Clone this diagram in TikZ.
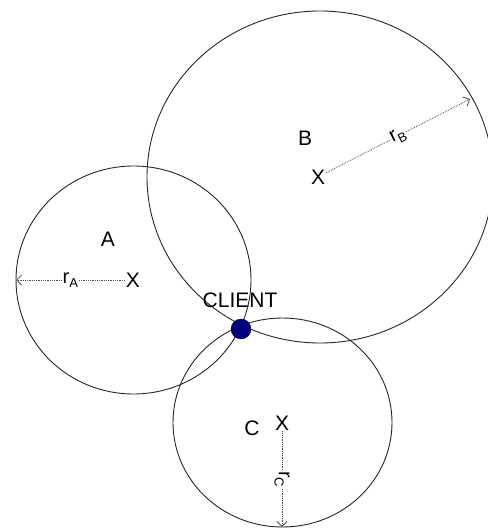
\documentclass[tikz,border=0pt]{standalone}
\usepackage{fontspec}
\setmainfont{Liberation Sans}
\usetikzlibrary{arrows.meta}

\definecolor{azulcliente}{RGB}{0,0,128}
\newcommand{\rsub}[1]{r\raisebox{-0.4ex}{\fontsize{13}{13}\selectfont #1}}

\tikzset{
    circulo/.style={black!85, line width=0.9pt},
    radio/.style={densely dotted, black!70, line width=0.8pt,
        -{Straight Barb[length=5pt,width=10pt]}},
    marca/.style={inner sep=1pt, font=\fontsize{21}{25}\selectfont},
    etiqueta/.style={font=\fontsize{21}{25}\selectfont},
    etiquetaradio/.style={fill=white, inner sep=1pt, text=black,
        font=\fontsize{20}{24}\selectfont},
}

\begin{document}
\begin{tikzpicture}[x=1pt,y=-1pt]

            \useasboundingbox (0,0) rectangle (487,529);

            %---------------- CIRCULOS ----------------
            \draw[circulo]
            (133.5,280) ellipse [x radius=117.5, y radius=114];

            \draw[circulo]
            (320,177) ellipse [x radius=173, y radius=166];

            \draw[circulo]
            (282.5,422.5) ellipse [x radius=109.5, y radius=104.5];

            %---------------- NOMBRES ----------------
            \node[etiqueta] (nomA) at (108,239) {A};
            \node[etiqueta] (nomB) at (305,138) {B};
            \node[etiqueta] (nomC) at (252,428) {C};

            %---------------- CENTROS ----------------
            \node[marca] (xA) at (133,280) {X};
            \node[marca] (xB) at (318,177) {X};
            \node[marca] (xC) at (282,423) {X};

            %---------------- RADIOS ----------------
            % Terminan sobre el borde de cada circulo
            \coordinate (bordeA) at (16,280);
            \coordinate (bordeB) at (470,99);
            \coordinate (bordeC) at (282,527);

            \draw[radio]
            (xA) -- node[etiquetaradio] {\rsub{A}} (bordeA);

            \draw[radio]
            (xB) -- node[etiquetaradio, rotate=27] {\rsub{B}} (bordeB);

            \draw[radio]
            (xC) -- node[etiquetaradio, rotate=-90] {\rsub{C}} (bordeC);

            %---------------- CLIENTE ----------------
            \node[circle, draw=black, fill=azulcliente,
                minimum size=20pt, inner sep=0pt]
            (cliente) at (241,329) {};

            \node[etiqueta] (nomcliente) at (240,300.5) {CLIENT};

        \end{tikzpicture}
\end{document}
